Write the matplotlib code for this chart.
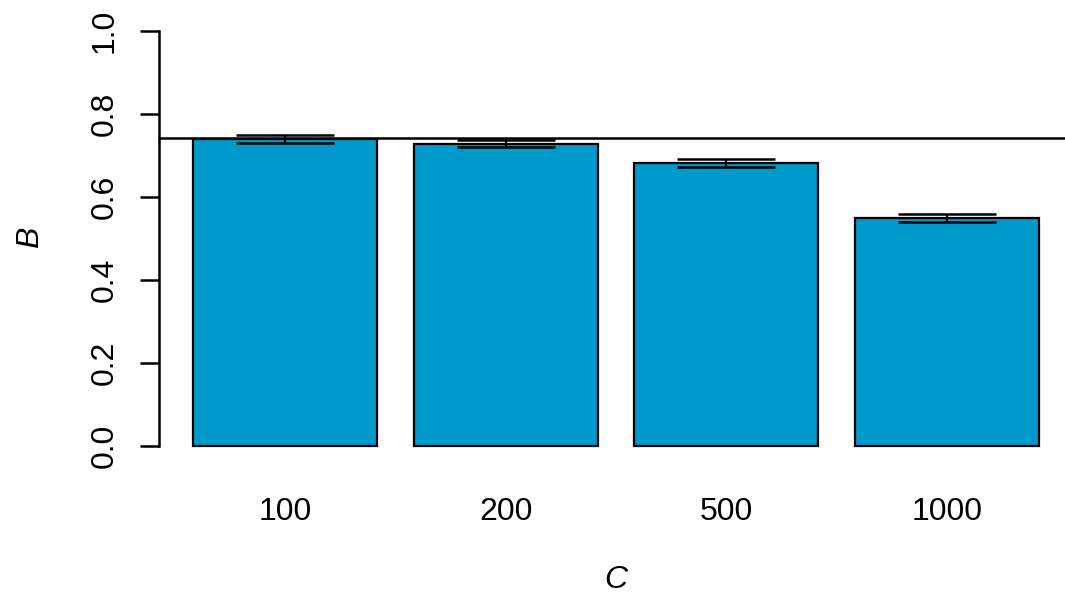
import numpy as np
import matplotlib.pyplot as plt

plt.rcParams['font.family'] = ['Liberation Sans', 'DejaVu Sans']

categories = ['100', '200', '500', '1000']
means = [0.739, 0.728, 0.681, 0.549]
errors = [0.010, 0.008, 0.0095, 0.009]
ref_line = 0.741

BAR_COLOR = '#0099CC'

fig = plt.figure(figsize=(10.65, 5.95), dpi=100)
# plot region in pixels: x 159..1073, y 14..462
W, H = 1065, 595
ax = fig.add_axes([159 / W, 1 - 462.3 / H, (1073 - 159) / W, (462.3 - 14.1) / H])

x = 0.7 + 1.2 * np.arange(len(categories))
ax.bar(x, means, width=1.0, color=BAR_COLOR, edgecolor='black', linewidth=1.6, zorder=2)
ax.errorbar(x, means, yerr=errors, fmt='none', ecolor='black', elinewidth=1.6,
            capsize=35, capthick=1.8, zorder=3)
ax.axhline(ref_line, color='black', linewidth=1.8, zorder=4, clip_on=False)

ax.set_xlim(0.016, 4.984)
ax.set_ylim(-0.04, 1.04)

for side in ['top', 'right', 'bottom']:
    ax.spines[side].set_visible(False)
ax.spines['left'].set_bounds(0, 1)
ax.spines['left'].set_linewidth(1.8)

ax.set_xticks(x)
ax.set_xticklabels(categories, fontsize=23)
ax.tick_params(axis='x', length=0, pad=25)

ax.set_yticks([0, 0.2, 0.4, 0.6, 0.8, 1.0])
ax.set_yticklabels(['0.0', '0.2', '0.4', '0.6', '0.8', '1.0'], fontsize=23,
                   rotation=90, va='center')
ax.tick_params(axis='y', length=14, width=1.8, pad=14)

fig.text(30 / W, 1 - 237 / H, 'B', fontsize=23, style='italic',
         rotation=90, ha='center', va='center')
fig.text(616 / W, 1 - 580 / H, 'C', fontsize=23, style='italic',
         ha='center', va='center')

fig.savefig('out.png', dpi=100)
